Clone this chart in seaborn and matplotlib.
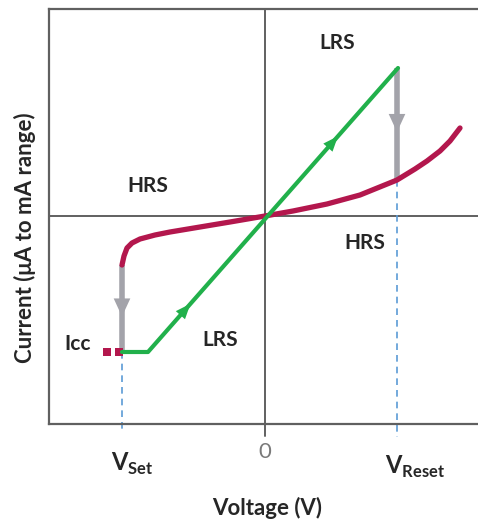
import numpy as np
import pandas as pd
import seaborn as sns
import matplotlib.pyplot as plt

# HRS curve (red)
hrs_v = [-1.43, -1.41, -1.38, -1.33, -1.25, -1.10, -0.95, -0.65, -0.35, 0.0,
         0.28, 0.62, 0.95, 1.32, 1.50, 1.62, 1.75, 1.85, 1.95]
hrs_i = [-0.49, -0.40, -0.32, -0.27, -0.23, -0.19, -0.16, -0.11, -0.06, 0.0,
         0.05, 0.12, 0.21, 0.36, 0.47, 0.55, 0.65, 0.75, 0.88]
# LRS path (green)
lrs_v = [-1.43, -1.17, 1.33]
lrs_i = [-1.36, -1.36, 1.48]
# compliance current marks
icc_v = [-1.58, -1.46]
icc_i = [-1.36, -1.36]
v_set = -1.43
v_reset = 1.32

red = "#b3174d"
green = "#21b04b"
gray = "#a3a3aa"
blue = "#5b9bd5"
axis_col = "#606060"

sns.set_style("white")
plt.rcParams["font.family"] = ["Lato", "DejaVu Sans"]
plt.rcParams["mathtext.fontset"] = "custom"
plt.rcParams["mathtext.rm"] = "Lato:bold"
plt.rcParams["mathtext.bf"] = "Lato:bold"

fig = plt.figure(figsize=(4.78, 5.23), dpi=100)
ax = fig.add_axes([49 / 478, 1 - 424 / 523, 1 - 49 / 478, (424 - 9) / 523])
ax.set_xlim(-2.16, 2.13)
ax.set_ylim(-2.08, 2.07)

hrs = pd.DataFrame({"v": hrs_v, "i": hrs_i})
lrs = pd.DataFrame({"v": lrs_v, "i": lrs_i})

# axes through origin
ax.axhline(0, color=axis_col, lw=1.4, zorder=1)
ax.plot([0, 0], [-2.2, 2.07], color=axis_col, lw=1.4, zorder=1, clip_on=False)

# dashed guides for V_set / V_reset
ax.plot([v_set, v_set], [lrs_i[0], -2.17], color=blue, lw=1.2, ls=(0, (4, 3)),
        clip_on=False, zorder=2)
ax.plot([v_reset, v_reset], [np.interp(v_reset, hrs_v, hrs_i), -2.21], color=blue,
        lw=1.2, ls=(0, (4, 3)), clip_on=False, zorder=2)

# gray switching arrows
for v, top, bot in [(v_set, hrs_i[0], lrs_i[0]),
                    (v_reset, lrs_i[-1], np.interp(v_reset, hrs_v, hrs_i))]:
    ax.plot([v, v], [top, bot], color=gray, lw=4, solid_capstyle="butt", zorder=3)
    tip = (top + bot) / 2 - 0.08
    ax.annotate("", xy=(v, tip), xytext=(v, tip + 0.2),
                arrowprops=dict(arrowstyle="-|>,head_length=0.65,head_width=0.3",
                                color=gray, lw=0, mutation_scale=20,
                                shrinkA=0, shrinkB=0), zorder=4)

sns.lineplot(data=hrs, x="v", y="i", ax=ax, color=red, lw=3.8, sort=False,
             estimator=None, zorder=5)
sns.lineplot(data=lrs, x="v", y="i", ax=ax, color=green, lw=3, sort=False,
             estimator=None, zorder=6)
sns.scatterplot(x=icc_v, y=icc_i, ax=ax, color=red, marker="s", s=30,
                linewidth=0, zorder=5)

# green direction arrows along the LRS line
for f in [0.17, 0.76]:
    x0 = lrs_v[1] + f * (lrs_v[2] - lrs_v[1])
    y0 = lrs_i[1] + f * (lrs_i[2] - lrs_i[1])
    dx = (lrs_v[2] - lrs_v[1]) * 0.04
    dy = (lrs_i[2] - lrs_i[1]) * 0.04
    ax.annotate("", xy=(x0, y0), xytext=(x0 - dx, y0 - dy),
                arrowprops=dict(arrowstyle="-|>,head_length=0.55,head_width=0.22",
                                color=green, lw=0, mutation_scale=20,
                                shrinkA=0, shrinkB=0), zorder=7)

# spines
for s in ["left", "bottom", "top"]:
    ax.spines[s].set_color(axis_col)
    ax.spines[s].set_linewidth(1.6)
ax.spines["right"].set_visible(False)
ax.set_xticks([])
ax.set_yticks([])
ax.set_xlabel("")
ax.set_ylabel("")

tk = dict(fontsize=15, fontweight="bold", ha="center", va="center")
ax.text(0.72, 1.73, "LRS", **tk)
ax.text(-1.17, 0.30, "HRS", **tk)
ax.text(1.0, -0.27, "HRS", **tk)
ax.text(-0.45, -1.24, "LRS", **tk)
ax.text(-1.87, -1.28, "Icc", **tk)

ax.text(0, -2.36, "0", fontsize=16, color="#7a7a7a", ha="center", va="center")
ax.text(v_set + 0.1, -2.48, r"$\mathrm{V}_{\mathrm{Set}}$", fontsize=17, ha="center", va="center")
ax.text(v_reset + 0.18, -2.51, r"$\mathrm{V}_{\mathrm{Reset}}$", fontsize=17, ha="center", va="center")

fig.text(267 / 478, 1 - 508 / 523, "Voltage (V)", fontsize=16, fontweight="bold",
         ha="center", va="center")
fig.text(25 / 478, 1 - 238 / 523, "Current (\u03bcA to mA range)", fontsize=16,
         fontweight="bold", rotation=90, ha="center", va="center")

fig.savefig("out.png", dpi=100)
